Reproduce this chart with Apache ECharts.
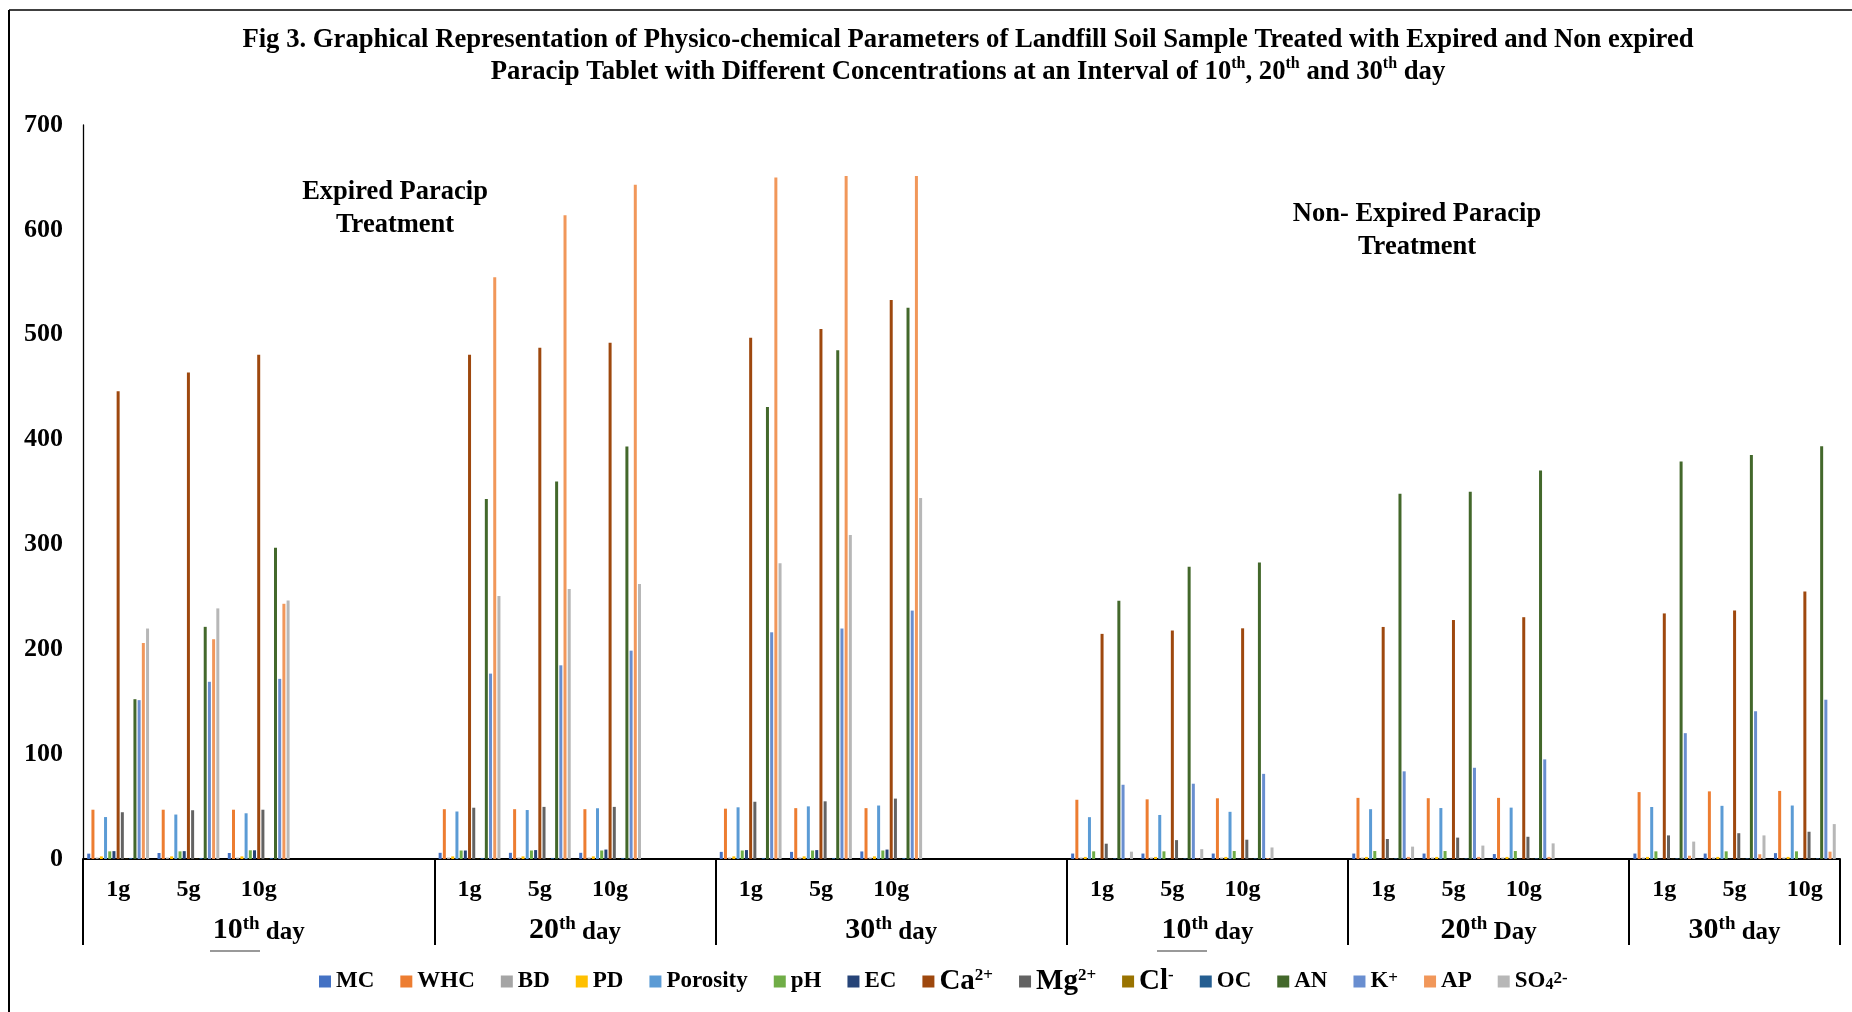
<!DOCTYPE html>
<html>
<head>
<meta charset="utf-8">
<title>Fig 3</title>
<script src="https://cdn.jsdelivr.net/npm/echarts@6/dist/echarts.min.js"></script>
<style>
  html, body { margin: 0; padding: 0; background: #fff; }
  #chart { width: 1852px; height: 1012px; }
</style>
</head>
<body>
<div id="chart"></div>
<script>
// categories: group prefix + dose; entries without a dose are empty spacer slots
const categories = [
  'E10 1g', 'E10 5g', 'E10 10g', 'E10 -', 'E10 -',
  'E20 1g', 'E20 5g', 'E20 10g', 'E20 -',
  'E30 1g', 'E30 5g', 'E30 10g', 'E30 -', 'E30 -',
  'N10 1g', 'N10 5g', 'N10 10g', 'N10 -',
  'N20 1g', 'N20 5g', 'N20 10g', 'N20 -',
  'N30 1g', 'N30 5g', 'N30 10g'
]
const groupKeys = ['E10', 'E20', 'E30', 'N10', 'N20', 'N30']
const groupLabels = ['10th day', '20th day', '30th day', '10th day', '20th Day', '30th day']

const seriesNames = ['MC', 'WHC', 'BD', 'PD', 'Porosity', 'pH', 'EC', 'Ca2+', 'Mg2+', 'Cl-', 'OC', 'AN', 'K+', 'AP', 'SO42-']
const colors = ['#4472C4', '#ED7D31', '#A5A5A5', '#FFC000', '#5B9BD5', '#70AD47', '#264478', '#9E480E',
  '#636363', '#997300', '#255E91', '#43682B', '#698ED0', '#F1975A', '#B7B7B7']

const _ = null
const mc = [5.1, 5.7, 5.7, _, _, 5.9, 5.9, 5.9, _, 6.8, 6.8, 7.2, _, _, 5.2, 5.2, 5.2, _, 5.2, 5.2, 4.7, _, 5.2, 5.2, 5.6]
const whc = [47, 47, 47, _, _, 47.5, 47.5, 47.5, _, 48, 48.5, 48.5, _, _, 56.5, 56.9, 57.9, _, 58.3, 58, 58.3, _, 63.8, 64.5, 64.9]
const bd = [1.3, 1.3, 1.3, _, _, 1.3, 1.3, 1.3, _, 1.3, 1.3, 1.3, _, _, 1.3, 1.3, 1.3, _, 1.3, 1.3, 1.3, _, 1.3, 1.3, 1.3]
const pd = [2.5, 2.5, 2.5, _, _, 2.5, 2.5, 2.5, _, 2.5, 2.5, 2.5, _, _, 2, 2, 2, _, 2, 2, 2, _, 2, 2, 2]
const porosity = [40, 42.4, 43.6, _, _, 45.3, 46.7, 48.4, _, 49.3, 50.2, 51, _, _, 39.9, 42, 45, _, 47.5, 48.6, 49, _, 49.6, 50.7, 51]
const ph = [7.3, 7.3, 8.3, _, _, 8.1, 8.1, 8.1, _, 8.1, 8.1, 8.1, _, _, 7.3, 7.3, 7.6, _, 7.6, 7.6, 7.6, _, 7.3, 7.3, 7.3]
const ec = [7.5, 7.5, 8.3, _, _, 8.1, 8.5, 9, _, 8.5, 8.5, 9, _, _, 0.3, 0.3, 0.3, _, 0.3, 0.3, 0.3, _, 0.3, 0.3, 0.3]
const ca = [446, 464, 481, _, _, 481, 487.5, 492.3, _, 497, 505.5, 533, _, _, 214.7, 217.9, 220, _, 221.3, 227.9, 230.6, _, 234.2, 237, 255]
const mg = [44.6, 46.5, 47, _, _, 48.9, 49.7, 49.7, _, 54.6, 55, 57.6, _, _, 14.6, 18, 18.4, _, 19.1, 20.4, 21.2, _, 22.5, 24.6, 26]
const cl = [0.2, 0.2, 0.2, _, _, 0.2, 0.2, 0.2, _, 0.2, 0.2, 0.2, _, _, 0.2, 0.2, 0.2, _, 0.2, 0.2, 0.2, _, 0.2, 0.2, 0.2]
const oc = [1, 1, 1, _, _, 1, 1, 1, _, 1, 1, 1, _, _, 0.6, 0.6, 0.6, _, 0.6, 0.6, 0.6, _, 0.6, 0.6, 0.6]
const an = [152.4, 221.4, 296.8, _, _, 343.3, 360, 393.3, _, 431, 485.2, 525.6, _, _, 246.3, 278.6, 282.8, _, 348.3, 350.3, 370.4, _, 379.1, 385.3, 393.7]
const k = [151.5, 169, 171.8, _, _, 176.8, 184.7, 198.7, _, 216.2, 219.8, 236.9, _, _, 70.8, 71.8, 81.2, _, 83.6, 87, 95, _, 120, 140.9, 151.9]
const ap = [206, 209.6, 243.4, _, _, 554.9, 614, 643, _, 650, 651.3, 651.3, _, _, 0.3, 0.3, 0.8, _, 2, 2, 2, _, 3.1, 4.5, 7]
const so4 = [219.8, 239, 246.6, _, _, 250.9, 257.5, 262.2, _, 282, 309, 344.2, _, _, 7, 9.4, 11, _, 11.8, 12.8, 14.9, _, 16.6, 22.5, 33.3]
const seriesValues = [mc, whc, bd, pd, porosity, ph, ec, ca, mg, cl, oc, an, k, ap, so4]

const yTicks = { min: 0, max: 700, interval: 100 }

const font = 'Liberation Serif'

// group spans on the category axis (index range of each day block)
const groups = groupKeys.map((key, i) => {
  const idx = categories.map((c, j) => c.split(' ')[0] === key ? j : -1).filter(j => j >= 0)
  const first = idx[0]
  const last = idx[idx.length - 1]
  return { label: groupLabels[i], start: first - 0.5, end: last + 0.5, mid: (first + last) / 2 }
})
const bounds = [groups[0].start].concat(groups.map(g => g.end))

function legendText(name) {
  if (name === 'Ca2+') return '{big|Ca}{sup|2+}'
  if (name === 'Mg2+') return '{big|Mg}{sup|2+}'
  if (name === 'Cl-') return '{big|Cl}{sup|-}'
  if (name === 'K+') return 'K{sup|+}'
  if (name === 'SO42-') return 'SO{sub|4}{sup|2-}'
  return name
}

function groupText(label) {
  const m = label.match(/^(\d+)th (\w+)$/)
  return '{num|' + m[1] + '}{sup|th}{day| ' + m[2] + '}'
}

const chart = echarts.init(document.getElementById('chart'))

const option = {
  backgroundColor: '#fff',
  animation: false,
  title: {
    text: 'Fig 3. Graphical Representation of Physico-chemical Parameters of Landfill Soil Sample Treated with Expired and Non expired\n' +
      'Paracip Tablet with Different Concentrations at an Interval of 10{s|th}, 20{s|th} and 30{s|th} day',
    left: 963,
    textAlign: 'center',
    top: 19,
    textStyle: {
      fontFamily: font,
      fontWeight: 'bold',
      fontSize: 26.7,
      lineHeight: 32,
      color: '#000',
      rich: {
        s: { fontFamily: font, fontWeight: 'bold', fontSize: 16, verticalAlign: 'top', lineHeight: 16, color: '#000' }
      }
    }
  },
  legend: {
    data: seriesNames,
    left: 314,
    top: 962,
    icon: 'rect',
    itemWidth: 12,
    itemHeight: 12,
    itemGap: 26,
    formatter: legendText,
    textStyle: {
      fontFamily: font,
      fontWeight: 'bold',
      fontSize: 23,
      color: '#000',
      rich: {
        big: { fontFamily: font, fontWeight: 'bold', fontSize: 29, color: '#000' },
        sup: { fontFamily: font, fontWeight: 'bold', fontSize: 17, verticalAlign: 'top', lineHeight: 17, color: '#000' },
        sub: { fontFamily: font, fontWeight: 'bold', fontSize: 16, verticalAlign: 'bottom', lineHeight: 16, color: '#000' }
      }
    }
  },
  grid: {
    left: 83,
    right: 12,
    top: 125,
    bottom: 153,
    containLabel: false
  },
  xAxis: [{
    type: 'category',
    data: categories,
    axisLine: { lineStyle: { color: '#000', width: 2 } },
    axisTick: { show: false },
    axisLabel: {
      interval: 0,
      margin: 19,
      color: '#000',
      fontFamily: font,
      fontWeight: 'bold',
      fontSize: 24,
      formatter: function(v) {
        const dose = v.split(' ')[1]
        return dose === '-' ? '' : dose
      }
    }
  }, {
    type: 'value',
    position: 'bottom',
    min: groups[0].start,
    max: groups[groups.length - 1].end,
    axisLine: { show: false },
    splitLine: { show: false },
    axisTick: {
      show: true,
      customValues: bounds,
      length: 86,
      lineStyle: { color: '#000', width: 2 }
    },
    axisLabel: {
      customValues: groups.map(g => g.mid),
      margin: 56,
      color: '#000',
      formatter: function(v) {
        const g = groups.find(gr => Math.abs(gr.mid - v) < 1e-6)
        return g ? groupText(g.label) : ''
      },
      rich: {
        num: { fontFamily: font, fontWeight: 'bold', fontSize: 30, verticalAlign: 'bottom', color: '#000' },
        sup: { fontFamily: font, fontWeight: 'bold', fontSize: 19, verticalAlign: 'top', lineHeight: 19, color: '#000' },
        day: { fontFamily: font, fontWeight: 'bold', fontSize: 25, verticalAlign: 'bottom', color: '#000' }
      }
    }
  }],
  yAxis: {
    type: 'value',
    min: yTicks.min,
    max: yTicks.max,
    interval: yTicks.interval,
    axisLine: { show: true, onZero: false, lineStyle: { color: '#000', width: 1.3 } },
    axisTick: { show: false },
    splitLine: { show: false },
    axisLabel: {
      margin: 20,
      color: '#000',
      fontFamily: font,
      fontWeight: 'bold',
      fontSize: 26
    }
  },
  series: seriesNames.map((name, i) => ({
    name: name,
    type: 'bar',
    xAxisIndex: 0,
    barWidth: 3,
    barGap: '40%',
    itemStyle: { color: colors[i] },
    data: seriesValues[i]
  })),
  graphic: [
    // frame
    { type: 'line', shape: { x1: 9, y1: 10, x2: 1852, y2: 10 }, style: { stroke: '#000', lineWidth: 1.5 } },
    { type: 'line', shape: { x1: 9, y1: 10, x2: 9, y2: 1012 }, style: { stroke: '#000', lineWidth: 2 } },
    // stray underlines under "10th"
    { type: 'line', shape: { x1: 210, y1: 951, x2: 260, y2: 951 }, style: { stroke: '#777', lineWidth: 1.5 } },
    { type: 'line', shape: { x1: 1157, y1: 951, x2: 1207, y2: 951 }, style: { stroke: '#777', lineWidth: 1.5 } },
    {
      type: 'text', x: 395, y: 209,
      style: { text: 'Expired Paracip\nTreatment', fill: '#000', font: 'bold 26.5px "Liberation Serif"', align: 'center', verticalAlign: 'middle', lineHeight: 33 }
    },
    {
      type: 'text', x: 1417, y: 231,
      style: { text: 'Non- Expired Paracip\nTreatment', fill: '#000', font: 'bold 26.5px "Liberation Serif"', align: 'center', verticalAlign: 'middle', lineHeight: 33 }
    }
  ]
}

chart.setOption(option)
</script>
</body>
</html>
